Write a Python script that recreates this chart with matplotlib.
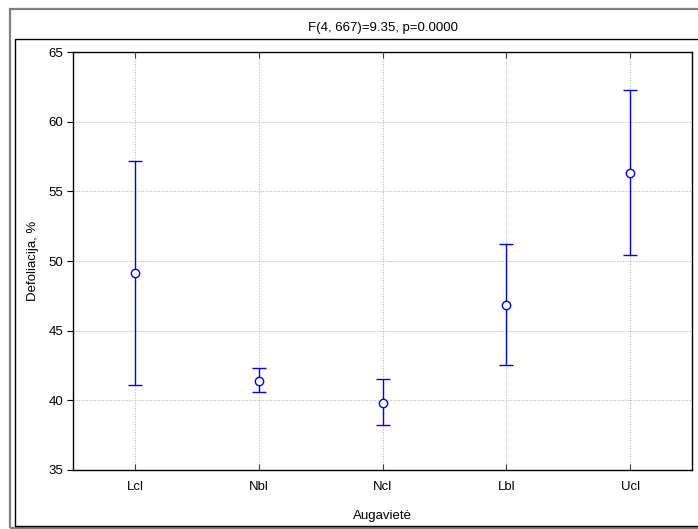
import matplotlib
matplotlib.use("Agg")
import matplotlib.pyplot as plt
from matplotlib.patches import Rectangle

plt.rcParams['font.family'] = ['Liberation Sans', 'DejaVu Sans']

categories = ["Lcl", "Nbl", "Ncl", "Lbl", "Ucl"]
means = [49.17, 41.41, 39.83, 46.84, 56.32]
upper = [57.20, 42.35, 41.50, 51.22, 62.27]
lower = [41.13, 40.60, 38.23, 42.56, 50.43]
title = "F(4, 667)=9.35, p=0.0000"
xlabel = "Augavietė"
ylabel = "Defoliacija, %"
yticks = [35, 40, 45, 50, 55, 60, 65]

W, H = 698, 529
fig = plt.figure(figsize=(W / 100, H / 100), dpi=100)

def fx(px):
    return px / W

def fy(py):
    return 1 - py / H

# frames
fig.add_artist(Rectangle((fx(10), fy(528)), fx(720) - fx(10), fy(9) - fy(528),
                         transform=fig.transFigure, fill=False, edgecolor="#808080", lw=1.6))
fig.add_artist(Rectangle((fx(15), fy(526)), fx(720) - fx(15), fy(39) - fy(526),
                         transform=fig.transFigure, fill=False, edgecolor="black", lw=1.0))

ax = fig.add_axes([fx(73), fy(470), fx(692) - fx(73), fy(52) - fy(470)])
x = list(range(1, len(categories) + 1))
yerr = [[m - l for m, l in zip(means, lower)], [u - m for m, u in zip(means, upper)]]
ax.errorbar(x, means, yerr=yerr, fmt='o', color='#0000ff', ecolor='#0000ff',
            elinewidth=1.0, capsize=5, capthick=1.0, markersize=6,
            markerfacecolor='white', markeredgecolor='#0000ff', markeredgewidth=1.0, zorder=3)

ax.set_xlim(0.5, 5.5)
ax.set_ylim(35, 65)
ax.set_xticks(x)
ax.set_xticklabels(categories)
ax.set_yticks(yticks)
ax.grid(True, color='#c4c4c4', linestyle=(0, (1.2, 1.2)), linewidth=0.8)
ax.set_axisbelow(True)
ax.tick_params(axis='x', direction='in', top=True, length=4, labelsize=9.5, pad=8, color='#404040')
ax.tick_params(axis='y', direction='out', length=4, labelsize=9.5, pad=3)
for s in ax.spines.values():
    s.set_linewidth(1.0)

ax.set_xlabel(xlabel, fontsize=9.5, labelpad=12)
ax.set_ylabel(ylabel, fontsize=9.5, labelpad=7)
fig.text(fx(383), fy(28), title, ha='center', va='center', fontsize=9.5)

fig.savefig("out.png", dpi=100)
